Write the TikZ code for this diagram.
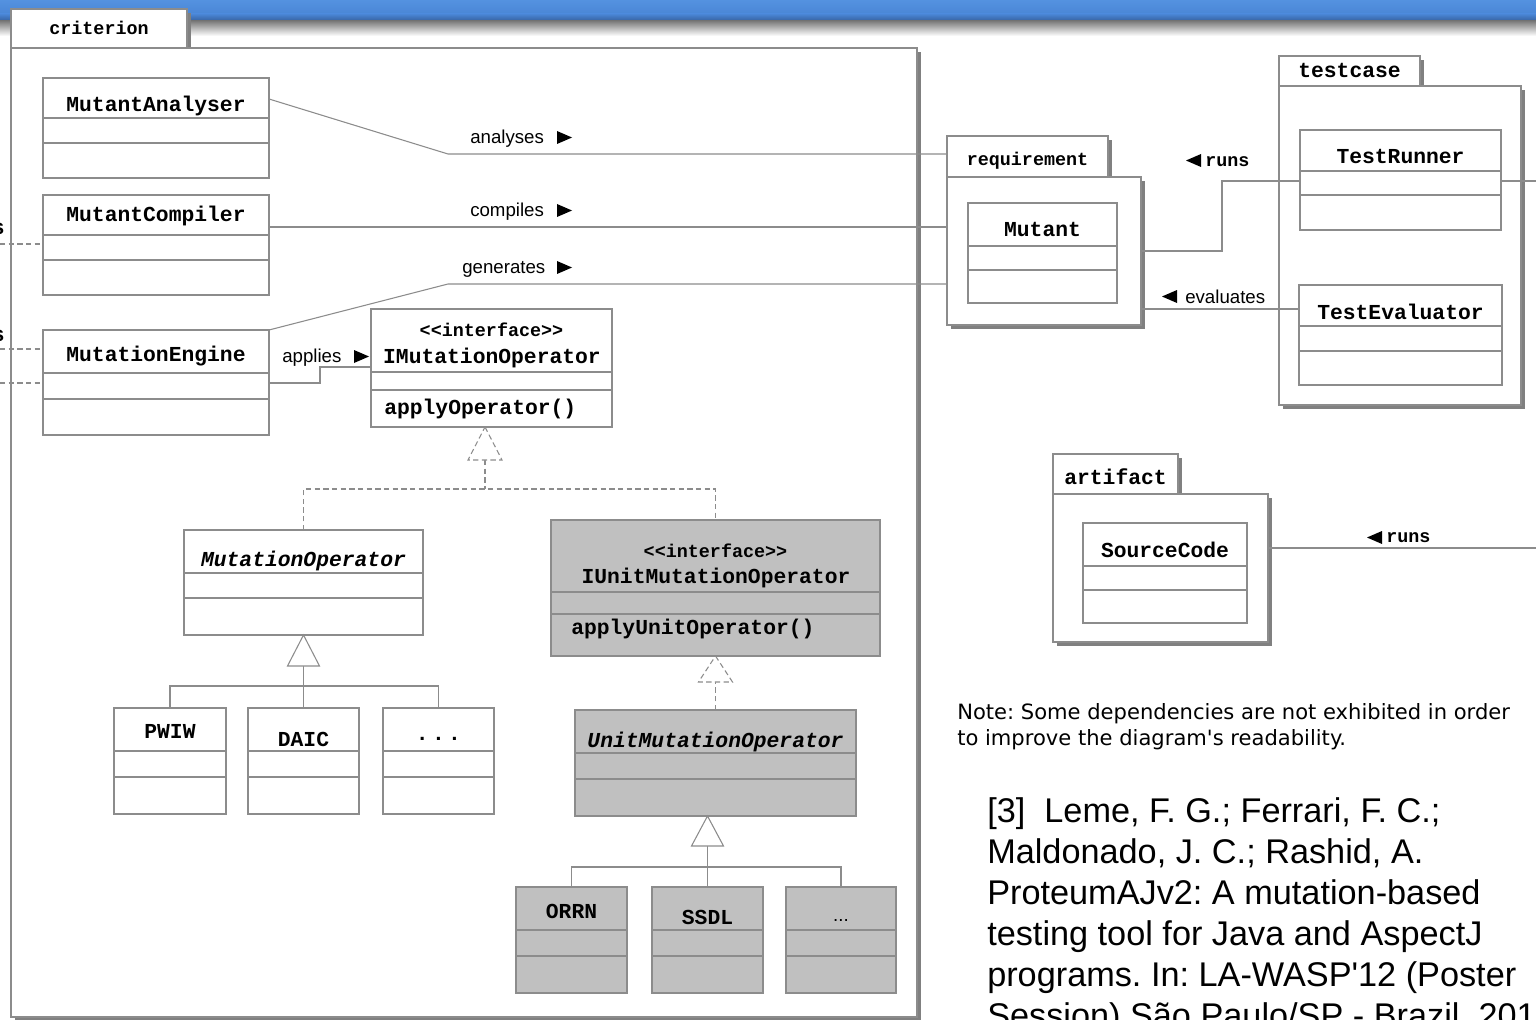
\documentclass[tikz,border=0pt]{standalone}
\usepackage{fontspec}
\setmainfont{Liberation Sans}
\setmonofont{Liberation Mono}
\newfontfamily\djv{DejaVu Sans}
\usetikzlibrary{fit}
\definecolor{bordergray}{HTML}{8C8C8C}
\definecolor{shadowgray}{HTML}{808080}
\definecolor{classgray}{HTML}{C0C0C0}
\definecolor{blueA}{HTML}{5492E0}
\definecolor{blueB}{HTML}{4A86D6}
\definecolor{blueC}{HTML}{36619F}
\definecolor{fadegray}{HTML}{7A7A7A}
\tikzset{
  bdr/.style={draw=bordergray, line width=0.8pt},
  box/.style={bdr, fill=white, inner sep=0pt, outer sep=0pt},
  gbox/.style={box, fill=classgray},
  conn/.style={draw=bordergray, line width=0.8pt},
  dep/.style={conn, dash pattern=on 4pt off 2.5pt},
  monob/.style={font=\ttfamily\bfseries\fontsize{16}{19}\selectfont, anchor=base, inner sep=0pt},
  monoi/.style={font=\ttfamily\bfseries\itshape\fontsize{16}{19}\selectfont, anchor=base, inner sep=0pt},
  monos/.style={font=\ttfamily\bfseries\fontsize{13.8}{16}\selectfont, anchor=base, inner sep=0pt},
  lbl/.style={font=\fontsize{14}{17}\selectfont, anchor=base west, inner sep=0pt},
  notetxt/.style={font=\djv\fontsize{15.8}{19}\selectfont, anchor=base west, inner sep=0pt},
  cite/.style={font=\fontsize{25.7}{31}\selectfont, anchor=base west, inner sep=0pt},
  tri/.style={fill=black},
}
% name, style, x1, y1, x2, y2, sep1, sep2
\newcommand\umlclass[8]{%
  \node[#2, fit={(#3,#4) (#5,#6)}] (#1) {};
  \draw[bdr] (#3,#7) -- (#5,#7) (#3,#8) -- (#5,#8);
}
% name, x1, y1, x2, y2, tab x2, tab y1
\newcommand\umlpkg[7]{%
  \fill[shadowgray] (#2+4,#7+4) rectangle (#6+4,#3);
  \fill[shadowgray] (#2+4,#3+4) rectangle (#4+4,#5+4);
  \node[box, fit={(#2,#7) (#6,#3)}] (#1tab) {};
  \node[box, fit={(#2,#3) (#4,#5)}] (#1) {};
}
\begin{document}
\frenchspacing
\begin{tikzpicture}[x=0.75pt, y=-0.75pt]
\useasboundingbox (0,0) rectangle (1536,1020);
\clip (0,0) rectangle (1536,1020);
\fill[white] (0,0) rectangle (1536,1020);
% top bar
\shade[top color=blueA, bottom color=blueB] (0,0) rectangle (1536,14);
\shade[top color=blueB, bottom color=blueC] (0,14) rectangle (1536,21);
\shade[top color=fadegray, bottom color=white] (0,21) rectangle (1536,36);

% ---------- packages ----------
\umlpkg{crit}{11}{48}{917}{1017}{187}{9}
\node[monos] (critlbl) at (99,35) {criterion};
\umlpkg{req}{947}{177}{1141}{325}{1108}{136}
\node[monos] (reqlbl) at (1027.5,166) {requirement};
\umlpkg{tc}{1279}{86}{1521}{405}{1420}{56}
\node[monob] (tclbl) at (1349.5,78) {testcase};
\umlpkg{art}{1053}{494}{1268}{642}{1178}{454}
\node[monob] (artlbl) at (1115.5,484) {artifact};

% ---------- classes ----------
\umlclass{ma}{box}{43}{78}{269}{178}{118}{143}
\node[monob] (mat) at (156,112) {MutantAnalyser};
\umlclass{mc}{box}{43}{195}{269}{295}{235}{260}
\node[monob] (mct) at (156,222) {MutantCompiler};
\umlclass{me}{box}{43}{330}{269}{435}{373}{399}
\node[monob] (met) at (156,361) {MutationEngine};
\umlclass{imo}{box}{371}{309}{612}{427}{372}{390}
\node[monos] (imos) at (491.5,336) {<{}<interface>{}>};
\node[monob] (imot) at (492,363) {IMutationOperator};
\node[monob, anchor=base west] (imoop) at (384,414) {applyOperator()};
\umlclass{mo}{box}{184}{530}{423}{635}{573}{598}
\node[monoi] (mot) at (303.5,566) {MutationOperator};
\umlclass{ium}{gbox}{551}{520}{880}{656}{592}{614}
\node[monos] (iums) at (715.5,557) {<{}<interface>{}>};
\node[monob] (iumt) at (716,583) {IUnitMutationOperator};
\node[monob, anchor=base west] (iumop) at (571,634) {applyUnitOperator()};
\umlclass{pwiw}{box}{114}{708}{226}{814}{751}{777}
\node[monob] (pwiwt) at (170,738) {PWIW};
\umlclass{daic}{box}{248}{708}{359}{814}{751}{777}
\node[monob] (daict) at (303.5,746) {DAIC};
\umlclass{dots}{box}{383}{708}{494}{814}{751}{777}
\node[monob] (dotst) at (438.5,740) {.\hspace{2.5pt}.\hspace{2.5pt}.};
\umlclass{umo}{gbox}{575}{710}{856}{816}{753}{779}
\node[monoi] (umot) at (715.5,747) {UnitMutationOperator};
\umlclass{orrn}{gbox}{516}{887}{627}{993}{930}{956}
\node[monob] (orrnt) at (571.5,918) {ORRN};
\umlclass{ssdl}{gbox}{652}{887}{763}{993}{930}{956}
\node[monob] (ssdlt) at (707.5,924) {SSDL};
\umlclass{gdots}{gbox}{786}{887}{896}{993}{930}{956}
\node[font=\fontsize{14}{17}\selectfont, anchor=base, inner sep=0pt] (gdotst) at (841,921) {...};

\umlclass{mut}{box}{968}{203}{1117}{303}{246}{270}
\node[monob] (mutt) at (1042.5,237) {Mutant};
\umlclass{tr}{box}{1300}{130}{1501}{230}{171}{195}
\node[monob] (trt) at (1400.5,164) {TestRunner};
\umlclass{te}{box}{1299}{285}{1502}{385}{326}{351}
\node[monob] (tet) at (1400.5,319) {TestEvaluator};
\umlclass{sc}{box}{1083}{523}{1247}{623}{566}{590}
\node[monob] (sct) at (1165,557) {SourceCode};

% ---------- connectors ----------
\draw[conn] (ma.east |- 0,99) -- (448,154) -- (req.west |- 0,154);
\draw[conn] (mc.east |- 0,227) -- (req.west |- 0,227);
\draw[conn] (me.north east) -- (448,284) -- (req.west |- 0,284);
\draw[conn] (me.east |- 0,383) -| (320,367) -- (imo.west |- 0,367);

\coordinate (l1) at (0,244);
\coordinate (l2) at (0,349);
\coordinate (l3) at (0,383);
\draw[dep] (l1) -- (mc.west |- l1);
\draw[dep] (l2) -- (me.west |- l2);
\draw[dep] (l3) -- (me.west |- l3);
\node[monob, anchor=base east] (s1) at (5,235) {s};
\node[monob, anchor=base east] (s2) at (5,341) {s};

% realizations
\draw[dep] (mo.north) |- (ium.north |- 0,489) -- (ium.north);
\draw[dep] (485,460) -- (485,489);
\draw[dep, fill=white] (imo.south -| 485,0) -- ++(17,33) -- ++(-34,0) -- cycle;
\draw[dep] (umo.north) -- (umo.north |- 0,682);
\draw[dep, fill=white] (ium.south) -- ++(17,26) -- ++(-34,0) -- cycle;

% generalizations
\draw[conn] (daic.north) -- (daic.north |- 0,666);
\draw[conn] (pwiw.north) |- (dots.north |- 0,686) -- (dots.north);
\draw[conn, fill=white] (mo.south) -- ++(16,31) -- ++(-32,0) -- cycle;
\draw[conn] (ssdl.north) -- (ssdl.north |- 0,846);
\draw[conn] (orrn.north) |- (gdots.north |- 0,867) -- (gdots.north);
\draw[conn, fill=white] (umo.south -| ssdl.north) -- ++(16,30) -- ++(-32,0) -- cycle;

% right side
\coordinate (trout) at (1540,181);
\coordinate (artout) at (1540,548);
\draw[conn] (req.east |- 0,251) -- (1222,251) |- (tr.west |- 0,181);
\draw[conn] (req.east |- 0,309) -- (te.west |- 0,309);
\draw[conn] (tr.east |- trout) -- (trout);
\draw[conn] (art.east |- artout) -- (artout);

% ---------- labels ----------
\node[lbl] (lan) at (470,144) {analyses};
\fill[tri] (557,131) -- (572,137.5) -- (557,144) -- cycle;
\node[lbl] (lco) at (470,217) {compiles};
\fill[tri] (557,204) -- (572,210.5) -- (557,217) -- cycle;
\node[lbl] (lge) at (462,273) {generates};
\fill[tri] (557,261) -- (572,267.5) -- (557,274) -- cycle;
\node[lbl] (lap) at (282,362) {applies};
\fill[tri] (354,350) -- (369,356.5) -- (354,363) -- cycle;

\fill[tri] (1201,154) -- (1186,160.5) -- (1201,167) -- cycle;
\node[monos, anchor=base west] (lru1) at (1205,167) {runs};
\fill[tri] (1177,290) -- (1162,296.5) -- (1177,303) -- cycle;
\node[lbl] (lev) at (1185,303) {evaluates};
\fill[tri] (1382,531) -- (1367,537.5) -- (1382,544) -- cycle;
\node[monos, anchor=base west] (lru2) at (1386,542) {runs};

% ---------- notes ----------
\node[notetxt] (n1) at (957,719) {Note: Some dependencies are not exhibited in order};
\node[notetxt] (n2) at (957,745) {to improve the diagram\textquotesingle s readability.};

\node[cite] (c1) at (987,822) {[3]~~Leme, F. G.; Ferrari, F. C.;};
\node[cite] (c2) at (987,863) {Maldonado, J. C.; Rashid, A.};
\node[cite] (c3) at (987,904) {ProteumAJv2: A mutation-based};
\node[cite] (c4) at (987,945) {testing tool for Java and AspectJ};
\node[cite] (c5) at (987,986) {programs. In: LA-WASP\textquotesingle 12 (Poster};
\node[cite] (c6) at (987,1027) {Session) São Paulo/SP - Brazil, 2012.};
\end{tikzpicture}
\end{document}
